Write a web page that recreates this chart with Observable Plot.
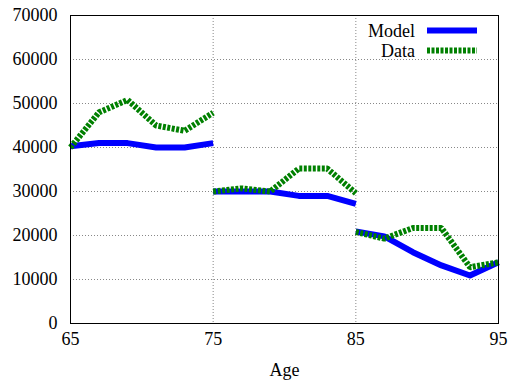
<!DOCTYPE html>
<html>
<head>
<meta charset="utf-8">
<script src="https://cdn.jsdelivr.net/npm/d3@7"></script>
<script src="https://cdn.jsdelivr.net/npm/@observablehq/plot@0.6"></script>
<style>
  body { margin: 0; background: #fff; }
  #chart { position: relative; width: 513px; height: 384px; }
</style>
</head>
<body>
<div id="chart"></div>
<script>
const ages     = [65,67,69,71,73,75, 75,77,79,81,83,85, 85,87,89,91,93,95];
const segments = [1,1,1,1,1,1, 2,2,2,2,2,2, 3,3,3,3,3,3];
const modelValues = [40300,41000,41000,40000,40000,41000, 30000,30000,30000,29000,29000,27200, 20900,19800,16200,13200,10900,13900];
const dataValues  = [40000,48000,50800,45000,43800,47900, 30000,30700,30000,35200,35200,29600, 20800,19300,21700,21700,12800,13900];
const xTicks = [65,75,85,95];
const yTicks = [0,10000,20000,30000,40000,50000,60000,70000];
const seriesNames = ["Model","Data"];
const seriesColors = ["#0000ff","#008000"];

const rows = ages.map((a,i) => ({age:a, seg:segments[i], model:modelValues[i], data:dataValues[i]}));
const font = "Liberation Serif, Times New Roman, serif";

const plot = Plot.plot({
  width: 513, height: 384,
  marginLeft: 70, marginRight: 15, marginTop: 15, marginBottom: 61,
  style: {fontFamily: font, fontSize: "18px", color: "#000", background: "#fff"},
  x: {domain: [65,95], ticks: xTicks},
  y: {domain: [0,70000], ticks: yTicks},
  marks: [
    Plot.gridX(xTicks.slice(1,-1), {stroke: "#888", strokeOpacity: 1, strokeDasharray: "1,2"}),
    Plot.gridY(yTicks.slice(1,-1), {stroke: "#888", strokeOpacity: 1, strokeDasharray: "1,2"}),
    Plot.axisX(xTicks, {tickSize: 0, tickPadding: 9, fontSize: 18, tickFormat: d3.format("d"), label: "Age", labelAnchor: "center", labelArrow: "none", labelOffset: 52}),
    Plot.axisY(yTicks, {tickSize: 0, tickPadding: 13, fontSize: 18, tickFormat: d3.format("d"), label: null}),
    Plot.line(rows, {x: "age", y: "model", z: "seg", stroke: seriesColors[0], strokeWidth: 6, strokeLinejoin: "round", strokeLinecap: "butt", curve: "linear"}),
    Plot.line(rows, {x: "age", y: "data", z: "seg", stroke: seriesColors[1], strokeWidth: 6, strokeDasharray: "3,1.5", strokeLinecap: "butt", strokeLinejoin: "miter", curve: "linear"}),
    Plot.frame({stroke: "#000", strokeWidth: 1})
  ]
});
document.getElementById("chart").appendChild(plot);

// legend (inside top-right, opaque white box)
const svg = d3.select(plot);
const lg = svg.append("g").attr("font-family", font).attr("font-size", 18);
lg.append("rect").attr("x", 358).attr("y", 16).attr("width", 129).attr("height", 42).attr("fill", "#fff");
seriesNames.forEach((name, i) => {
  const yb = 36.5 + i * 20;
  lg.append("text").attr("x", 415).attr("y", yb).attr("text-anchor", "end").attr("fill", "#000").text(name);
  const ln = lg.append("line").attr("x1", 427).attr("x2", 477).attr("y1", yb - 6).attr("y2", yb - 6)
    .attr("stroke", seriesColors[i]).attr("stroke-width", 6);
  if (i === 1) ln.attr("stroke-dasharray", "3,1.5");
});
</script>
</body>
</html>
